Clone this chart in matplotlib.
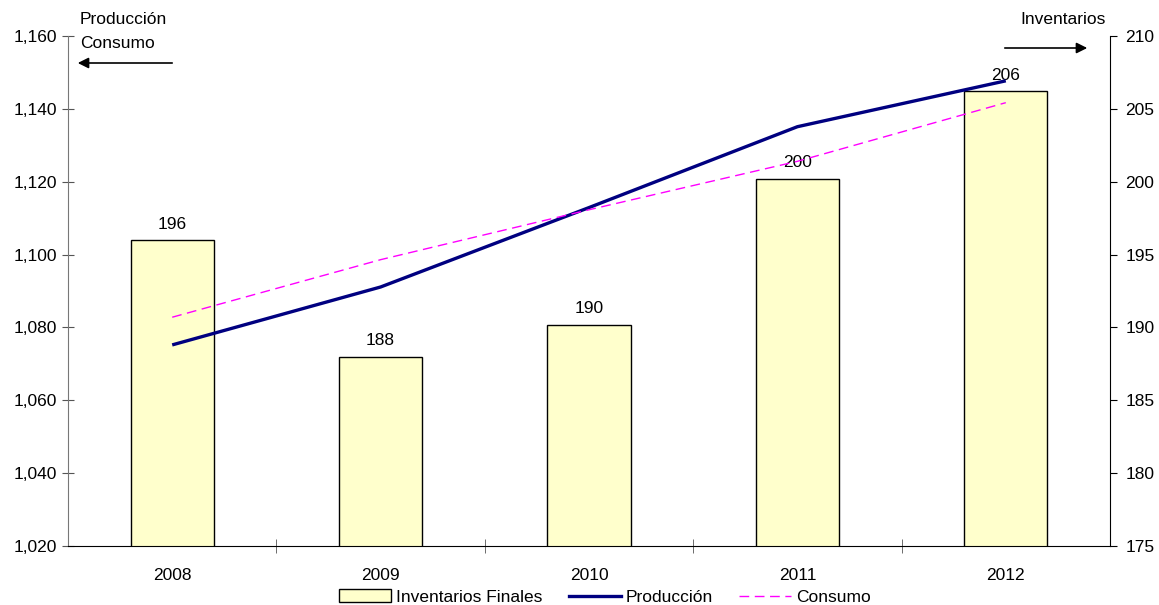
import matplotlib
matplotlib.use("Agg")
import matplotlib.pyplot as plt
from matplotlib.ticker import FuncFormatter, MultipleLocator, FixedLocator
from matplotlib.patches import Patch
from matplotlib.lines import Line2D

plt.rcParams['font.family'] = ['Liberation Sans', 'DejaVu Sans']

years = ["2008", "2009", "2010", "2011", "2012"]
inventarios = [196.0, 188.0, 190.2, 200.2, 206.2]
produccion = [1075.2, 1091.1, 1112.9, 1135.1, 1147.7]
consumo = [1082.8, 1098.6, 1112.3, 1125.6, 1141.7]

FS = 12.5

fig = plt.figure(figsize=(11.59, 6.05), dpi=100)
ax = fig.add_axes([68/1159, 1-546/605, (1110-68)/1159, (546-36)/605])
ax2 = ax.twinx()
ax.set_zorder(ax2.get_zorder() + 1)
ax.patch.set_visible(False)

x = list(range(len(years)))
ax2.bar(x, inventarios, width=0.4, color="#FFFFCC", edgecolor="black", linewidth=1.0)
for xi, v in zip(x, inventarios):
    ax2.annotate(f"{v:.0f}", (xi, v), xytext=(0, 6), textcoords="offset points",
                 ha="center", va="bottom", fontsize=FS)

ax.plot(x, produccion, color="#000080", linewidth=2.4, solid_capstyle="butt")
ax.plot(x, consumo, color="#FF00FF", linewidth=1.0, dashes=(7, 4))

ax.set_xlim(-0.5, 4.5)
ax.set_ylim(1020, 1160)
ax2.set_ylim(175, 210)
ax.yaxis.set_major_locator(MultipleLocator(20))
ax.yaxis.set_major_formatter(FuncFormatter(lambda v, p: f"{v:,.0f}"))
ax2.yaxis.set_major_locator(MultipleLocator(5))

ax.set_xticks(x)
ax.set_xticklabels(years)
ax.xaxis.set_minor_locator(FixedLocator([0.5, 1.5, 2.5, 3.5]))
ax.tick_params(axis="x", which="major", length=0, pad=16, labelsize=FS)
ax.tick_params(axis="x", which="minor", length=10, direction="inout", color="#555555")
ax.tick_params(axis="y", length=8, direction="inout", labelsize=FS, pad=4, color="#555555")
ax2.tick_params(axis="y", length=5, direction="out", labelsize=FS, pad=6)
ax2.tick_params(axis="x", length=0)

for a in (ax, ax2):
    a.spines["top"].set_visible(False)
ax.spines["right"].set_visible(False)
ax2.spines["left"].set_visible(False)
ax2.spines["bottom"].set_visible(False)
ax.spines["left"].set_color("#777777")
ax.spines["bottom"].set_color("black")
ax2.spines["right"].set_color("black")

fig.text(80/1159, 1-20/605, "Producción", fontsize=FS, ha="left", va="center")
fig.text(80/1159, 1-44/605, "Consumo", fontsize=FS, ha="left", va="center")
fig.text(1063/1159, 1-20/605, "Inventarios", fontsize=FS, ha="center", va="center")
fig.add_artist(matplotlib.patches.FancyArrowPatch(
    (175/1159, 1-63/605), (75/1159, 1-63/605), transform=fig.transFigure,
    arrowstyle="-|>", mutation_scale=16, color="black", linewidth=1.2))
fig.add_artist(matplotlib.patches.FancyArrowPatch(
    (1002/1159, 1-48/605), (1090/1159, 1-48/605), transform=fig.transFigure,
    arrowstyle="-|>", mutation_scale=16, color="black", linewidth=1.2))

handles = [
    Patch(facecolor="#FFFFCC", edgecolor="black", linewidth=1.0),
    Line2D([], [], color="#000080", linewidth=2.4),
    Line2D([], [], color="#FF00FF", linewidth=1.0, dashes=(7, 4)),
]
labels = ["Inventarios Finales", "Producción", "Consumo"]
fig.legend(handles, labels, loc="center", bbox_to_anchor=(605/1159, 1-597/605), ncol=3,
           frameon=False, fontsize=FS, handlelength=3.0, handletextpad=0.3,
           columnspacing=1.5, borderaxespad=0)

fig.savefig("out.png", dpi=100)
